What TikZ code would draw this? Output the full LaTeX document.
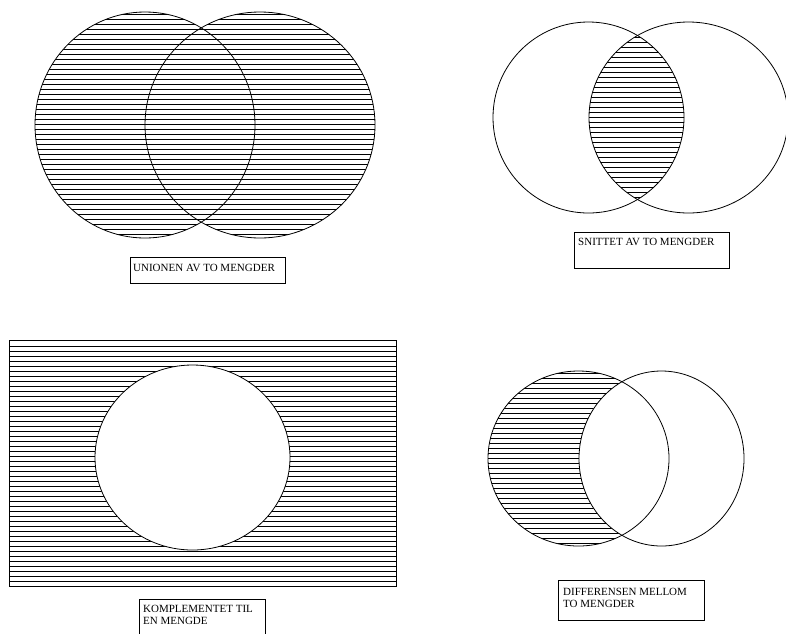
\documentclass[tikz,border=0pt]{standalone}
\usepackage{fontspec}
\setmainfont{Liberation Serif}
\begin{document}
\begin{tikzpicture}[x=1pt,y=-1pt,
  outline/.style={draw=black,line width=0.8pt},
  hatchline/.style={draw=black,line width=0.55pt},
  labelbox/.style={draw=black,line width=0.7pt,anchor=north west,inner sep=0pt},
  labeltext/.style={anchor=north west,inner sep=0pt,align=left,font=\fontsize{11}{12.5}\selectfont}]
\useasboundingbox (0,0) rectangle (786,633);
\clip (0,0) rectangle (786,633);

% ---------- Union ----------
\begin{scope}
  \clip (145,125) ellipse [x radius=110,y radius=113];
  \foreach \y in {14,19,...,240} \draw[hatchline] (30,\y) -- (380,\y);
\end{scope}
\begin{scope}
  \clip (260,125) ellipse [x radius=115,y radius=113];
  \foreach \y in {14,19,...,240} \draw[hatchline] (30,\y) -- (380,\y);
\end{scope}
\draw[outline] (145,125) ellipse [x radius=110,y radius=113];
\draw[outline] (260,125) ellipse [x radius=115,y radius=113];
\node[labelbox,minimum width=155pt,minimum height=26pt] (ubox) at (130,257) {};
\node[labeltext] (utext) at (133,264) {UNIONEN AV TO MENGDER};

% ---------- Intersection ----------
\begin{scope}
  \clip (588.5,117.5) ellipse [x radius=95.5,y radius=95.5];
  \clip (688.5,117.5) ellipse [x radius=99.5,y radius=95.5];
  \foreach \y in {22,27,...,215} \draw[hatchline] (580,\y) -- (700,\y);
\end{scope}
\draw[outline] (588.5,117.5) ellipse [x radius=95.5,y radius=95.5];
\draw[outline] (688.5,117.5) ellipse [x radius=99.5,y radius=95.5];
\node[labelbox,minimum width=155pt,minimum height=36pt] (sbox) at (574,232) {};
\node[labeltext] (stext) at (578,238) {SNITTET AV TO MENGDER};

% ---------- Complement ----------
\begin{scope}
  \clip (9,340) rectangle (396,586);
  \foreach \y in {346,351,...,586} \draw[hatchline] (9,\y) -- (396,\y);
\end{scope}
\fill[white] (192.5,457.5) ellipse [x radius=97.5,y radius=92.5];
\draw[outline] (9,340) rectangle (396,586);
\draw[outline] (192.5,457.5) ellipse [x radius=97.5,y radius=92.5];
\node[labelbox,minimum width=126pt,minimum height=45pt] (kbox) at (139,599) {};
\node[labeltext] (ktext) at (143,605) {KOMPLEMENTET TIL\\EN MENGDE};

% ---------- Difference ----------
\begin{scope}
  \clip (578.5,458.5) ellipse [x radius=90.5,y radius=87.5];
  \foreach \y in {373,378,...,548} \draw[hatchline] (480,\y) -- (680,\y);
\end{scope}
\fill[white] (661.5,458.5) ellipse [x radius=82.5,y radius=87.5];
\draw[outline] (578.5,458.5) ellipse [x radius=90.5,y radius=87.5];
\draw[outline] (661.5,458.5) ellipse [x radius=82.5,y radius=87.5];
\node[labelbox,minimum width=146pt,minimum height=40pt] (dbox) at (558,580) {};
\node[labeltext] (dtext) at (563,588) {DIFFERENSEN MELLOM\\TO MENGDER};
\end{tikzpicture}
\end{document}
